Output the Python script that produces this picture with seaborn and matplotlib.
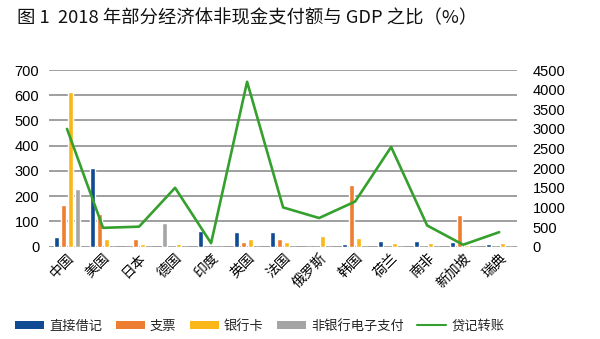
import numpy as np
import pandas as pd
import matplotlib
matplotlib.use("Agg")
import matplotlib.pyplot as plt
import seaborn as sns
from matplotlib.lines import Line2D
from matplotlib.patches import Patch

countries = ["中国", "美国", "日本", "德国", "印度", "英国", "法国", "俄罗斯", "韩国", "荷兰", "南非", "新加坡", "瑞典"]
direct_debit = [40, 310, 0, 92, 63, 57, 57, 0, 9, 21, 21, 20, 10]
cheque = [166, 130, 32, 0, 0, 17, 32, 0, 246, 0, 0, 126, 0]
bank_card = [612, 32, 11, 10, 0, 32, 20, 43, 33, 16, 14, 7, 14]
nonbank = [227, 0, 0, 0, 0, 0, 0, 0, 0, 0, 0, 0, 0]
credit_transfer = [3000, 480, 510, 1500, 90, 4200, 1000, 730, 1150, 2540, 540, 50, 370]

series_names = ["直接借记", "支票", "银行卡", "非银行电子支付"]
line_name = "贷记转账"
left_ticks = [0, 100, 200, 300, 400, 500, 600, 700]
right_ticks = [0, 500, 1000, 1500, 2000, 2500, 3000, 3500, 4000, 4500]

colors = ["#0f4a92", "#ed7d31", "#fbb617", "#a5a5a5"]
line_color = "#35a02e"

sns.set_theme(style="white")
plt.rcParams["font.family"] = ["Noto Sans CJK SC", "DejaVu Sans"]

rows = []
for name, vals in zip(series_names, [direct_debit, cheque, bank_card, nonbank]):
    for c, v in zip(countries, vals):
        rows.append({"country": c, "series": name, "value": v})
df = pd.DataFrame(rows)

fig = plt.figure(figsize=(6.0, 3.39), dpi=100)
ax = fig.add_axes([0.0817, 0.2723, 0.7803, 0.5212])

sns.barplot(data=df, x="country", y="value", hue="series", order=countries,
            hue_order=series_names, palette=colors, width=0.8, gap=0.3,
            saturation=1, ax=ax, legend=False)

# Germany's first bar appears grey in the reference
for p in ax.patches:
    cx = p.get_x() + p.get_width() / 2
    if 2.5 < cx < 3.0 and abs(p.get_height() - direct_debit[3]) < 1e-6:
        p.set_facecolor(colors[3])

num_font = {"family": ["Liberation Sans", "DejaVu Sans"], "size": 10.5}

ax.set_ylim(0, 700)
ax.set_yticks(left_ticks)
ax.set_yticklabels([str(t) for t in left_ticks], fontdict=num_font)
ax.set_xlim(-0.5, len(countries) - 0.5)
ax.yaxis.grid(True, color="#858585", linewidth=1.1)
ax.set_axisbelow(True)
for s in ax.spines.values():
    s.set_visible(False)
ax.set_xlabel("")
ax.set_ylabel("")
ax.tick_params(axis="both", length=0, colors="black")
ax.tick_params(axis="y", pad=7)
ax.set_xticks(range(len(countries)))
ax.set_xticklabels(countries, rotation=45, ha="right", rotation_mode="anchor", fontsize=10)
ax.tick_params(axis="x", pad=3)

ax2 = ax.twinx()
sns.lineplot(x=np.arange(len(countries)), y=credit_transfer, color=line_color,
             linewidth=1.9, ax=ax2)
ax2.set_ylim(0, 4500)
ax2.set_yticks(right_ticks)
ax2.set_yticklabels([str(t) for t in right_ticks], fontdict=num_font)
for s in ax2.spines.values():
    s.set_visible(False)
ax2.tick_params(axis="y", length=0, colors="black", pad=11)
ax2.set_ylabel("")
ax2.grid(False)

fig.text(0.028, 0.945, "图 1  2018 年部分经济体非现金支付额与 GDP 之比（%）",
         fontsize=13.2, ha="left", va="center", color="#111111")

handles = [Patch(facecolor=c, edgecolor="none") for c in colors]
handles.append(Line2D([0], [0], color=line_color, linewidth=1.5))
labels = series_names + [line_name]
fig.legend(handles, labels, loc="center", bbox_to_anchor=(0.433, 0.038), ncol=5,
           frameon=False, fontsize=9.5, handlelength=2.2, handleheight=0.55,
           handletextpad=0.4, columnspacing=1.0)

fig.savefig("out.png", dpi=100)
